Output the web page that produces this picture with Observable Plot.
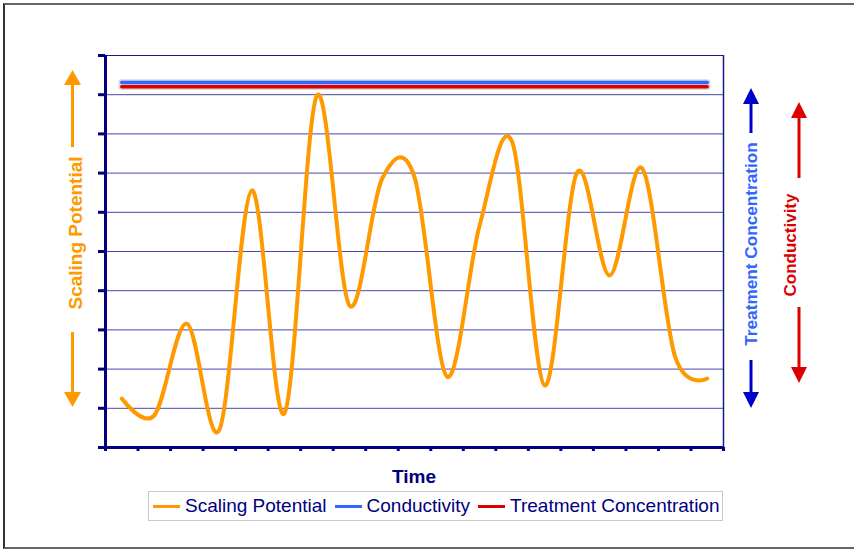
<!DOCTYPE html>
<html>
<head>
<meta charset="utf-8">
<script src="https://cdn.jsdelivr.net/npm/d3@7"></script>
<script src="https://cdn.jsdelivr.net/npm/@observablehq/plot@0.6"></script>
<style>
  html, body { margin: 0; padding: 0; background: #fff; }
  #wrap { position: relative; width: 854px; height: 549px; overflow: hidden; font-family: "Liberation Sans", Arial, sans-serif; }
  #frame { position: absolute; left: 3px; top: 3px; width: 860px; height: 546px; box-sizing: border-box;
           border-top: 2px solid #666; border-left: 2px solid #333; border-bottom: 2px solid #666; }
  #chart { position: absolute; left: 0; top: 0; }
  #legend { position: absolute; left: 148px; top: 491px; width: 575px; height: 30px; box-sizing: border-box;
            border: 1px solid #c8c8c8; display: flex; align-items: center; padding-left: 4px;
            font-size: 19px; color: #000080; white-space: nowrap; }
  .item { display: flex; align-items: center; margin-right: 8px; }
  .sw { width: 27px; height: 3px; margin-right: 5px; }
</style>
</head>
<body>
<div id="wrap">
  <div id="frame"></div>
  <div id="chart"></div>
  <div id="legend"></div>
</div>
<script>
// ---- data ----
const times = [1, 2, 3, 4, 5, 6, 7, 8, 9, 10, 11, 12, 13, 14, 15, 16, 17, 18, 19];
const scalingPotential = [12.5, 8.2, 31.6, 4.5, 65.6, 8.7, 89.8, 36.2, 68.5, 69.0, 18.1, 56.6, 78.0, 15.8, 70.2, 43.9, 71.2, 23.5, 17.6];
const conductivity = [93.1, 93.1, 93.1, 93.1, 93.1, 93.1, 93.1, 93.1, 93.1, 93.1, 93.1, 93.1, 93.1, 93.1, 93.1, 93.1, 93.1, 93.1, 93.1];
const treatmentConcentration = [92.0, 92.0, 92.0, 92.0, 92.0, 92.0, 92.0, 92.0, 92.0, 92.0, 92.0, 92.0, 92.0, 92.0, 92.0, 92.0, 92.0, 92.0, 92.0];
const yTicks = [0, 10, 20, 30, 40, 50, 60, 70, 80, 90, 100];
const seriesNames = ["Scaling Potential", "Conductivity", "Treatment Concentration"];
const seriesColors = ["#FF9900", "#3366FF", "#DD0000"];

// ---- build ----
const navy = "#000080";
const xEdges = times.map(t => t - 0.5).concat([times[times.length - 1] + 0.5]);
const rows = (vals) => times.map((t, i) => ({ t, v: vals[i] }));
const smooth = d3.curveCardinal.tension(0);

const plot = Plot.plot({
  width: 854,
  height: 490,
  marginTop: 55,
  marginBottom: 43,
  marginLeft: 105,
  marginRight: 131,
  style: { background: "transparent", overflow: "visible", fontFamily: "Liberation Sans, Arial, sans-serif" },
  x: { domain: [xEdges[0], xEdges[xEdges.length - 1]], axis: null },
  y: { domain: [yTicks[0], yTicks[yTicks.length - 1]], axis: null },
  marks: [
    Plot.ruleY(yTicks.slice(1, -1), { stroke: "#4848aa", strokeWidth: 1 }),
    Plot.ruleY([yTicks[yTicks.length - 1]], { stroke: "#1a1a90", strokeWidth: 1.2 }),
    Plot.ruleX([xEdges[xEdges.length - 1]], { stroke: "#1a1a90", strokeWidth: 1.5 }),
    Plot.line(rows(conductivity), { x: "t", y: "v", stroke: "#d8d8d8", strokeWidth: 6.5 }),
    Plot.line(rows(treatmentConcentration), { x: "t", y: "v", stroke: "#d8d8d8", strokeWidth: 6.5 }),
    Plot.line(rows(conductivity), { x: "t", y: "v", stroke: seriesColors[1], strokeWidth: 3.5 }),
    Plot.line(rows(treatmentConcentration), { x: "t", y: "v", stroke: seriesColors[2], strokeWidth: 3.5 }),
    Plot.line(rows(scalingPotential), { x: "t", y: "v", stroke: seriesColors[0], strokeWidth: 4, curve: smooth }),
    Plot.axisY({ ticks: yTicks, tickSize: 7, tickFormat: () => "", stroke: navy, strokeWidth: 3, label: null }),
    Plot.axisX({ ticks: xEdges, tickSize: 4, tickFormat: () => "", stroke: navy, strokeWidth: 3, label: null }),
    Plot.ruleX([xEdges[0]], { stroke: navy, strokeWidth: 3 }),
    Plot.ruleY([yTicks[0]], { stroke: navy, strokeWidth: 3 })
  ]
});
document.getElementById("chart").appendChild(plot);

// ---- axis titles and arrows ----
const svg = d3.select(plot);
const g = svg.append("g").attr("font-family", "Liberation Sans, Arial, sans-serif").attr("font-weight", "bold");

function arrow(x, yTail, yTip, color, headLen, halfW) {
  const dir = yTip < yTail ? -1 : 1;
  const yBase = yTip - dir * headLen;
  g.append("line").attr("x1", x).attr("x2", x).attr("y1", yTail).attr("y2", yBase)
    .attr("stroke", color).attr("stroke-width", 3);
  g.append("path").attr("d", `M${x},${yTip}L${x - halfW},${yBase}L${x + halfW},${yBase}Z`).attr("fill", color);
}
function vtext(x, y, str, color, size) {
  g.append("text").attr("transform", `translate(${x},${y}) rotate(-90)`)
    .attr("text-anchor", "middle").attr("fill", color).attr("font-size", size).text(str);
}

vtext(82, 233, "Scaling Potential", "#FF9900", 19);
arrow(72.5, 147, 70, "#FF9900", 15, 8.5);
arrow(72.5, 332, 407, "#FF9900", 15, 8.5);

vtext(757, 244, "Treatment Concentration", "#3366FF", 17.2);
arrow(751, 133, 88, "#0000CC", 16, 8);
arrow(751, 360, 408, "#0000CC", 16, 8);

vtext(796, 245, "Conductivity", "#DD0000", 17);
arrow(799, 178, 102, "#DD0000", 16, 8);
arrow(799, 307, 383, "#DD0000", 16, 8);

g.append("text").attr("x", 414).attr("y", 483).attr("text-anchor", "middle")
  .attr("fill", navy).attr("font-size", 19).text("Time");

// ---- legend ----
const legend = d3.select("#legend");
seriesNames.forEach((name, i) => {
  const it = legend.append("div").attr("class", "item");
  it.append("div").attr("class", "sw").style("background", seriesColors[i]);
  it.append("span").text(name);
});
</script>
</body>
</html>
